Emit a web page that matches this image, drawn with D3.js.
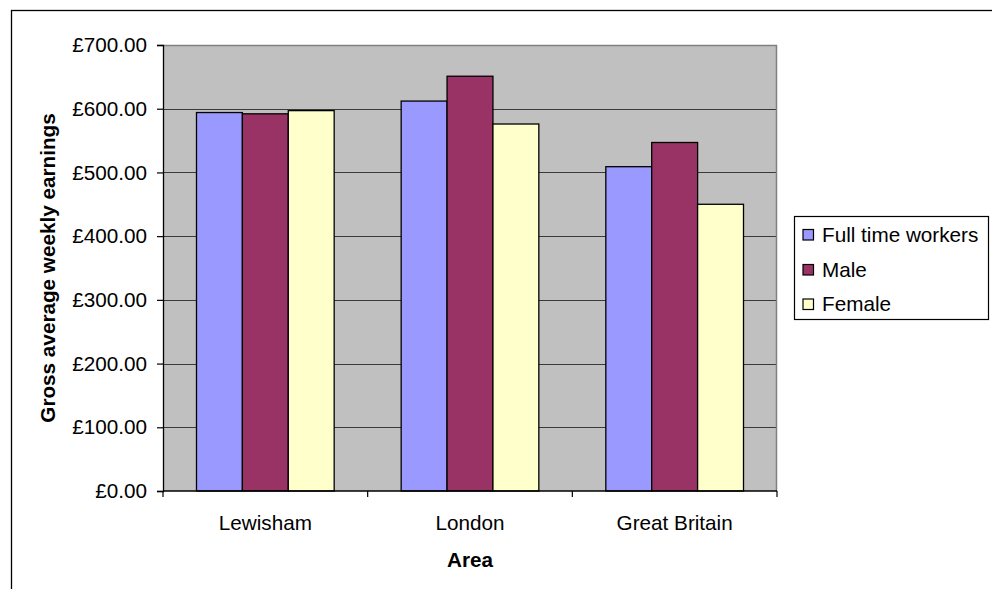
<!DOCTYPE html>
<html>
<head>
<meta charset="utf-8">
<script src="https://cdn.jsdelivr.net/npm/d3@7"></script>
<style>
  html, body { margin: 0; padding: 0; background: #fff; }
  svg { display: block; }
  text { font-family: "Liberation Sans", Arial, sans-serif; fill: #000; }
</style>
</head>
<body>
<svg id="chart" width="992" height="589"></svg>
<script>
const categories = ["Lewisham", "London", "Great Britain"];
const seriesNames = ["Full time workers", "Male", "Female"];
const seriesColors = ["#9999FF", "#993366", "#FFFFCC"];
const fullTimeValues = [594, 612, 509];
const maleValues = [592, 651, 547];
const femaleValues = [597, 576, 450];
const yTicks = [0, 100, 200, 300, 400, 500, 600, 700];
const yTitle = "Gross average weekly earnings";
const xTitle = "Area";

const seriesValues = [fullTimeValues, maleValues, femaleValues];
const rows = categories.map((c, i) => ({
  category: c,
  values: seriesNames.map((s, j) => ({ series: s, value: seriesValues[j][i], color: seriesColors[j] }))
}));

const svg = d3.select("#chart");
const FS = "20.7px";
const plot = { left: 163, right: 777, top: 45, bottom: 491 };

// outer chart border
svg.append("rect")
  .attr("x", 11.5).attr("y", 10.5)
  .attr("width", 1000).attr("height", 700)
  .attr("fill", "#fff").attr("stroke", "#000").attr("stroke-width", 1.3);

const x0 = d3.scaleBand().domain(categories).range([plot.left, plot.right]).paddingInner(0).paddingOuter(0);
const x1 = d3.scaleBand().domain(seriesNames).range([0, x0.bandwidth()]).paddingInner(0).paddingOuter(0.73);
const y = d3.scaleLinear().domain([0, 700]).range([plot.bottom, plot.top]);

// plot background
svg.append("rect")
  .attr("x", plot.left).attr("y", plot.top)
  .attr("width", plot.right - plot.left).attr("height", plot.bottom - plot.top)
  .attr("fill", "#C0C0C0");

// gridlines
svg.append("g").selectAll("line")
  .data(yTicks.filter(t => t > 0 && t < 700))
  .join("line")
  .attr("x1", plot.left).attr("x2", plot.right)
  .attr("y1", d => Math.round(y(d)) + 0.5).attr("y2", d => Math.round(y(d)) + 0.5)
  .attr("stroke", "#3a3a3a").attr("stroke-width", 1.2);

// plot border top/right
svg.append("path")
  .attr("d", `M${plot.left},${plot.top + 0.5}H${plot.right - 0.5}V${plot.bottom}`)
  .attr("fill", "none").attr("stroke", "#808080").attr("stroke-width", 1.5);

// bars
const groups = svg.append("g").selectAll("g")
  .data(rows).join("g")
  .attr("transform", d => `translate(${x0(d.category)},0)`);
groups.selectAll("rect")
  .data(d => d.values).join("rect")
  .attr("x", d => x1(d.series))
  .attr("y", d => y(d.value))
  .attr("width", x1.bandwidth())
  .attr("height", d => y(0) - y(d.value))
  .attr("fill", d => d.color)
  .attr("stroke", "#000").attr("stroke-width", 1.3);

// y axis
const yAxis = d3.axisLeft(y).tickValues(yTicks).tickSize(6).tickPadding(10)
  .tickFormat(d => "£" + d3.format(".2f")(d));
const gy = svg.append("g").attr("transform", `translate(${plot.left},0)`).call(yAxis);
gy.select(".domain").attr("stroke", "#000").attr("stroke-width", 1.3);
gy.selectAll(".tick line").attr("stroke", "#000").attr("stroke-width", 1.2);
gy.selectAll(".tick text").style("font-size", FS).attr("font-family", null);

// x axis
const boundaries = categories.map(c => x0(c)).concat([plot.right]);
const gx = svg.append("g");
gx.append("line")
  .attr("x1", plot.left).attr("x2", plot.right)
  .attr("y1", plot.bottom).attr("y2", plot.bottom)
  .attr("stroke", "#000").attr("stroke-width", 1.3);
gx.selectAll("line.tick").data(boundaries).join("line")
  .attr("class", "tick")
  .attr("x1", d => d).attr("x2", d => d)
  .attr("y1", plot.bottom).attr("y2", plot.bottom + 6)
  .attr("stroke", "#000").attr("stroke-width", 1.2);
gx.selectAll("text").data(categories).join("text")
  .attr("x", d => x0(d) + x0.bandwidth() / 2)
  .attr("y", 530)
  .attr("text-anchor", "middle")
  .style("font-size", FS)
  .text(d => d);

// axis titles
svg.append("text")
  .attr("x", (plot.left + plot.right) / 2).attr("y", 566.5)
  .attr("text-anchor", "middle")
  .style("font-size", FS).style("font-weight", "bold")
  .text(xTitle);
svg.append("text")
  .attr("transform", `translate(54.5,${(plot.top + plot.bottom) / 2}) rotate(-90)`)
  .attr("text-anchor", "middle")
  .style("font-size", FS).style("font-weight", "bold")
  .text(yTitle);

// legend
const lg = svg.append("g");
lg.append("rect")
  .attr("x", 794.5).attr("y", 216.5).attr("width", 194).attr("height", 103)
  .attr("fill", "#fff").attr("stroke", "#000").attr("stroke-width", 1.2);
const rowY = [235, 270, 304.5];
const items = lg.selectAll("g.item").data(seriesNames).join("g").attr("class", "item");
items.append("rect")
  .attr("x", 803).attr("y", (d, i) => rowY[i] - 5.5)
  .attr("width", 10.5).attr("height", 10.5)
  .attr("fill", (d, i) => seriesColors[i])
  .attr("stroke", "#000").attr("stroke-width", 1.2);
items.append("text")
  .attr("x", 822).attr("y", (d, i) => rowY[i] + 6.5)
  .style("font-size", FS)
  .text(d => d);
</script>
</body>
</html>
